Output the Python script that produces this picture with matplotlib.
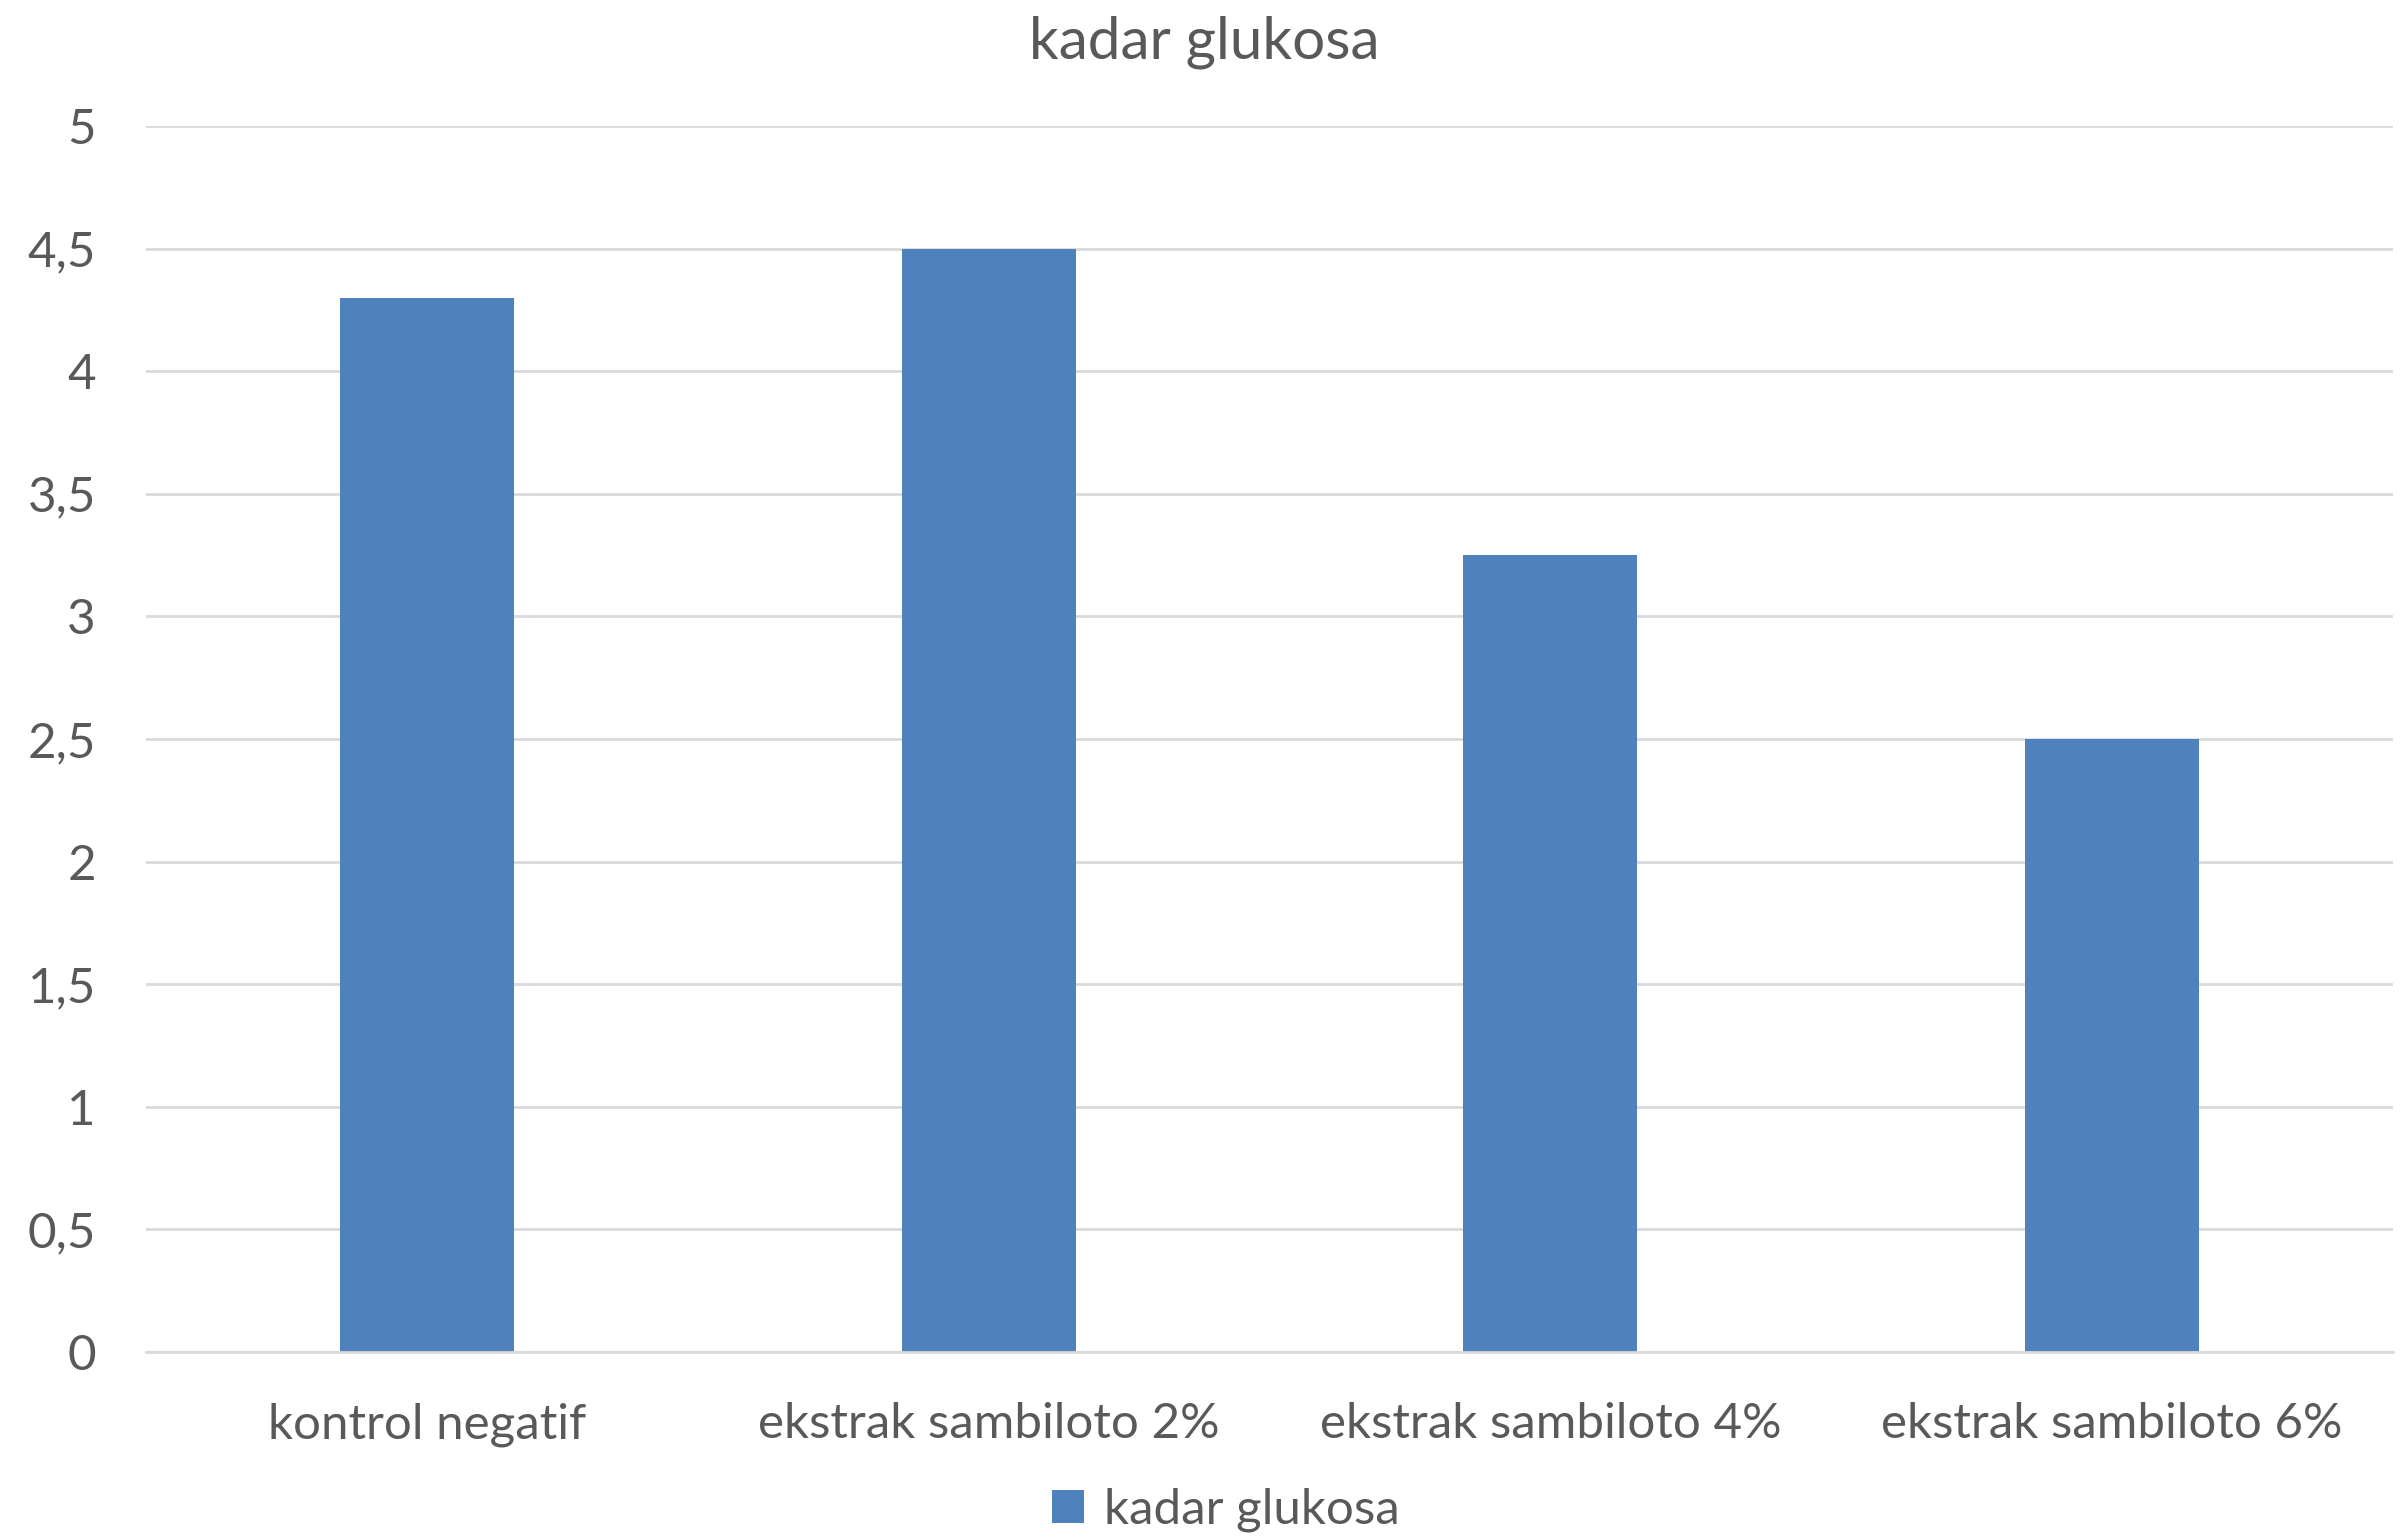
import matplotlib
matplotlib.use("Agg")
import matplotlib.pyplot as plt
from matplotlib.patches import Patch

# Data
categories = ["kontrol negatif", "ekstrak sambiloto 2%", "ekstrak sambiloto 4%", "ekstrak sambiloto 6%"]
values = [4.3, 4.5, 3.25, 2.5]
series_name = "kadar glukosa"
chart_title = "kadar glukosa"
y_ticks = [0, 0.5, 1, 1.5, 2, 2.5, 3, 3.5, 4, 4.5, 5]
y_tick_labels = ["0", "0,5", "1", "1,5", "2", "2,5", "3", "3,5", "4", "4,5", "5"]

BAR_COLOR = "#4F81BD"
TEXT_COLOR = "#595959"
GRID_COLOR = "#D9D9D9"

plt.rcParams["font.family"] = ["Lato", "DejaVu Sans"]

fig = plt.figure(figsize=(24.08, 15.38), dpi=100)
ax = fig.add_axes([0.0606, 0.1209, 0.9332, 0.7971])

x = range(len(categories))
ax.bar(x, values, width=0.31, color=BAR_COLOR, zorder=3)

ax.set_xlim(-0.5, len(categories) - 0.5)
ax.set_ylim(0, 5)
ax.set_yticks(y_ticks)
ax.set_yticklabels(y_tick_labels)
ax.set_xticks(list(x))
ax.set_xticklabels(categories)

ax.grid(axis="y", color=GRID_COLOR, linewidth=2, zorder=0)
for side in ("top", "right", "left"):
    ax.spines[side].set_visible(False)
ax.spines["bottom"].set_color(GRID_COLOR)
ax.spines["bottom"].set_linewidth(2)
ax.spines["bottom"].set_zorder(4)

ax.tick_params(axis="y", length=0, pad=36, labelsize=35.5, labelcolor=TEXT_COLOR)
ax.tick_params(axis="x", length=0, pad=36, labelsize=35.5, labelcolor=TEXT_COLOR)

fig.text(0.5, 1 - 42 / 1538, chart_title, ha="center", va="center",
         fontsize=42, color=TEXT_COLOR)

handle = Patch(facecolor=BAR_COLOR, edgecolor="none")
fig.legend([handle], [series_name], loc="center", bbox_to_anchor=(0.509, 1 - 1510 / 1538),
           frameon=False, fontsize=35.5, labelcolor=TEXT_COLOR,
           handlelength=0.65, handleheight=0.65, handletextpad=0.4)

fig.savefig("out.png", dpi=100, facecolor="white")
